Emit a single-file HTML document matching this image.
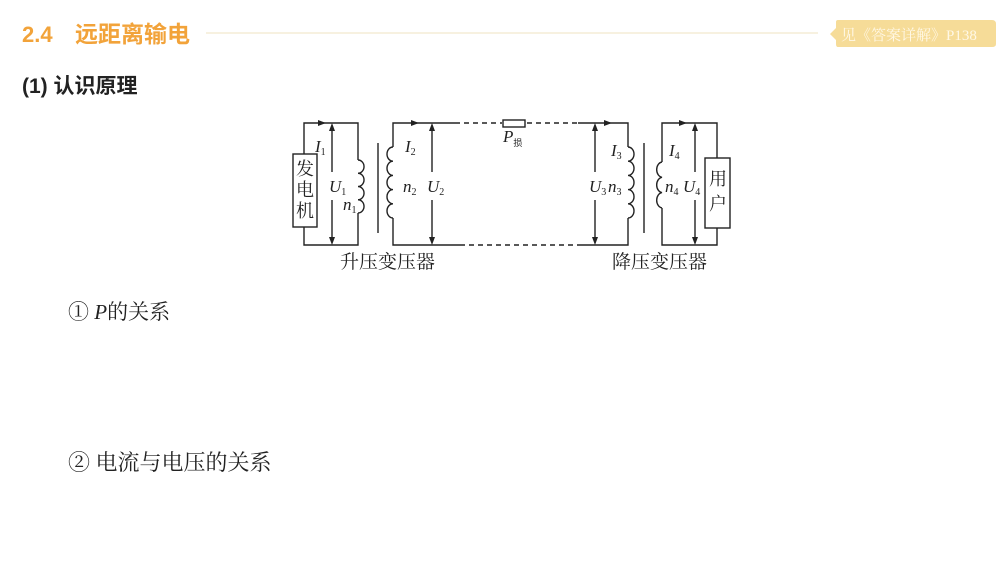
<!DOCTYPE html>
<html><head><meta charset="utf-8"><style>
body{margin:0;background:#fff;width:1002px;height:574px;overflow:hidden;}
svg{display:block}
.s{font-family:"Liberation Serif","Noto Serif CJK SC",serif;}
.c{font-family:"Liberation Sans","Noto Sans CJK SC",sans-serif;}
</style></head><body>
<svg width="1002" height="574" viewBox="0 0 1002 574" xmlns="http://www.w3.org/2000/svg">
<text x="22" y="42" class="c" font-size="22" font-weight="bold" fill="#f2a33a">2.4</text>
<text x="75" y="42" class="c" font-size="23" font-weight="bold" fill="#f2a33a">远距离输电</text>
<line x1="206" y1="33" x2="818" y2="33" stroke="#efe3c0" stroke-width="1"/>
<path d="M830 34 L836 28 L836 22 Q836 20 838 20 L992 20 Q996 20 996 24 L996 44 Q996 47 992 47 L838 47 Q836 47 836 44 L836 40 Z" fill="#f6dc98"/>
<text x="841" y="40" class="s" font-size="15" fill="#fff8e6">见《答案详解》P138</text>
<text x="22" y="93" class="c" font-size="21" font-weight="bold" fill="#222">(1) 认识原理</text>

<g stroke="#222" stroke-width="1.4" fill="none">
<path d="M304 154 V123 H358 V160 M358 213 V245 H304 V227"/>
<rect x="293" y="154" width="24" height="73"/>
<path d="M358 160 a6 6.6 0 0 1 0 13.25 a6 6.6 0 0 1 0 13.25 a6 6.6 0 0 1 0 13.25 a6 6.6 0 0 1 0 13.25"/>
<line x1="378" y1="143" x2="378" y2="233"/>
<path d="M393 147 V123 H455 M393 218 V245 H460"/>
<path d="M393 147 a6 7.1 0 0 0 0 14.2 a6 7.1 0 0 0 0 14.2 a6 7.1 0 0 0 0 14.2 a6 7.1 0 0 0 0 14.2 a6 7.1 0 0 0 0 14.2"/>
<path d="M455 123 H502 M460 245 H578 M527 123 H578" stroke-dasharray="5 4"/>
<rect x="503" y="120" width="22" height="7"/>
<path d="M578 123 H628 V147 M628 218 V245 H578"/>
<path d="M628 147 a6 7.1 0 0 1 0 14.2 a6 7.1 0 0 1 0 14.2 a6 7.1 0 0 1 0 14.2 a6 7.1 0 0 1 0 14.2 a6 7.1 0 0 1 0 14.2"/>
<line x1="644" y1="143" x2="644" y2="233"/>
<path d="M662 162 V123 H717 V158 M717 228 V245 H662 V208"/>
<path d="M662 162 a6 7.7 0 0 0 0 15.3 a6 7.7 0 0 0 0 15.3 a6 7.7 0 0 0 0 15.3"/>
<rect x="705" y="158" width="25" height="70"/>
<path d="M332 127 V172 M332 200 V241"/>
<path d="M432 127 V172 M432 200 V241"/>
<path d="M595 127 V172 M595 200 V241"/>
<path d="M695 127 V172 M695 200 V241"/>
</g>
<g fill="#222">
<path d="M332 123 l-3 8 h6z M332 245 l-3 -8 h6z"/>
<path d="M432 123 l-3 8 h6z M432 245 l-3 -8 h6z"/>
<path d="M595 123 l-3 8 h6z M595 245 l-3 -8 h6z"/>
<path d="M695 123 l-3 8 h6z M695 245 l-3 -8 h6z"/>
<path d="M326 123 l-8 -3 v6z M419 123 l-8 -3 v6z M612 123 l-8 -3 v6z M687 123 l-8 -3 v6z"/>
</g>
<g class="s" font-size="17" fill="#222" font-style="italic">
<text x="315" y="152">I<tspan font-size="10" font-style="normal" dy="3">1</tspan></text>
<text x="329" y="192">U<tspan font-size="10" font-style="normal" dy="3">1</tspan></text>
<text x="343" y="210">n<tspan font-size="10" font-style="normal" dy="3">1</tspan></text>
<text x="405" y="152">I<tspan font-size="10" font-style="normal" dy="3">2</tspan></text>
<text x="403" y="192">n<tspan font-size="10" font-style="normal" dy="3">2</tspan></text>
<text x="427" y="192">U<tspan font-size="10" font-style="normal" dy="3">2</tspan></text>
<text x="503" y="142">P<tspan font-size="9" font-style="normal" dy="4" class="c">损</tspan></text>
<text x="611" y="156">I<tspan font-size="10" font-style="normal" dy="3">3</tspan></text>
<text x="589" y="192">U<tspan font-size="10" font-style="normal" dy="3">3</tspan></text>
<text x="608" y="192">n<tspan font-size="10" font-style="normal" dy="3">3</tspan></text>
<text x="669" y="156">I<tspan font-size="10" font-style="normal" dy="3">4</tspan></text>
<text x="665" y="192">n<tspan font-size="10" font-style="normal" dy="3">4</tspan></text>
<text x="683" y="192">U<tspan font-size="10" font-style="normal" dy="3">4</tspan></text>
</g>
<g class="s" font-size="18" fill="#222">
<text x="296" y="175">发</text><text x="296" y="196">电</text><text x="296" y="217">机</text>
<text x="709" y="185">用</text><text x="709" y="210">户</text>
</g>
<g class="s" font-size="19" fill="#222">
<text x="340" y="268">升压变压器</text>
<text x="612" y="268">降压变压器</text>
</g>
<text x="68" y="319" class="s" font-size="21" fill="#222">① <tspan font-style="italic">P</tspan>的关系</text>
<text x="68" y="470" class="s" font-size="22" fill="#222">② 电流与电压的关系</text>
</svg>
</body></html>
